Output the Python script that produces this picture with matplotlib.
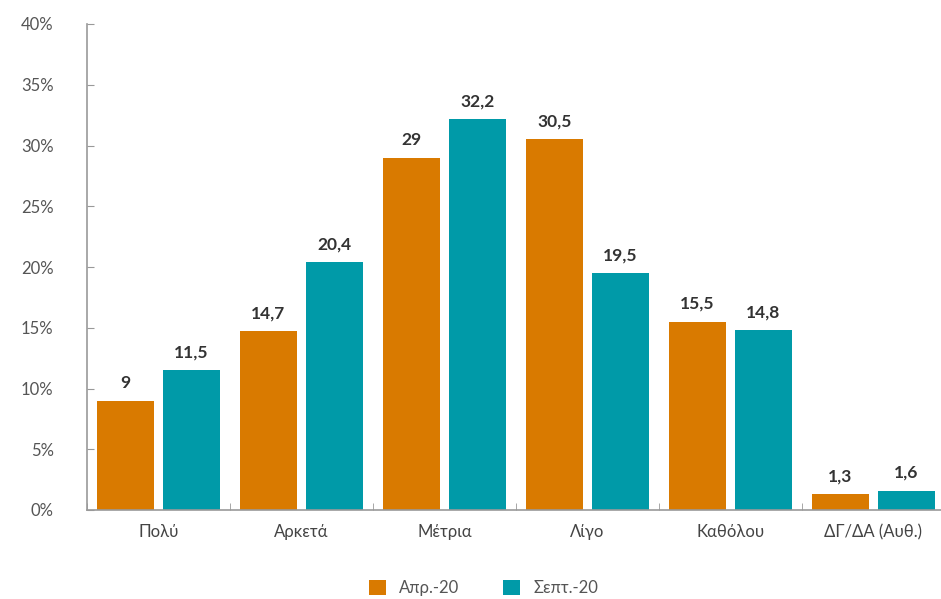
import matplotlib
matplotlib.use("Agg")
import matplotlib.pyplot as plt
import numpy as np
from matplotlib.ticker import FuncFormatter

categories = ["Πολύ", "Αρκετά", "Μέτρια", "Λίγο", "Καθόλου", "ΔΓ/ΔΑ (Αυθ.)"]
apr20 = [9, 14.7, 29, 30.5, 15.5, 1.3]
sep20 = [11.5, 20.4, 32.2, 19.5, 14.8, 1.6]
series_names = ["Απρ.-20", "Σεπτ.-20"]
colors = ["#D97A00", "#009AA8"]

plt.rcParams['font.family'] = ['Lato', 'DejaVu Sans']

fig = plt.figure(figsize=(9.41, 5.99), dpi=100)
ax = fig.add_axes([87 / 941, 89 / 599, (944.6 - 87) / 941, 486 / 599])

x = np.arange(len(categories))
w = 0.399
off = 0.231
b1 = ax.bar(x - off, apr20, w, color=colors[0], label=series_names[0])
b2 = ax.bar(x + off, sep20, w, color=colors[1], label=series_names[1])

def fmt(v):
    return ("%g" % v).replace(".", ",")

for bars, vals in ((b1, apr20), (b2, sep20)):
    for r, v in zip(bars, vals):
        ax.text(r.get_x() + r.get_width() / 2, v + 0.8, fmt(v), ha="center", va="bottom",
                fontsize=12.5, fontweight="bold", color="#333333")

ax.set_xlim(-0.5, len(categories) - 0.5)
ax.set_ylim(0, 40)
ax.set_yticks(np.arange(0, 41, 5))
ax.yaxis.set_major_formatter(FuncFormatter(lambda v, p: "%d%%" % v))
ax.set_xticks(x)
ax.set_xticklabels(categories)
ax.set_xticks(np.arange(-0.5, len(categories)), minor=True)
ax.tick_params(axis="x", which="major", length=0, pad=10, labelsize=12, labelcolor="#444444")
ax.tick_params(axis="x", which="minor", direction="in", length=5, color="#999999")
ax.tick_params(axis="y", direction="in", length=5, color="#999999", pad=24, labelsize=12, labelcolor="#555555")

for s in ("top", "right"):
    ax.spines[s].set_visible(False)
for s in ("left", "bottom"):
    ax.spines[s].set_color("#999999")
    ax.spines[s].set_linewidth(1.2)

leg = fig.legend(handles=[b1, b2], labels=series_names, loc="center", bbox_to_anchor=(0.514, 0.018),
                 ncol=2, frameon=False, fontsize=12, handlelength=1.0, handleheight=1.0,
                 columnspacing=2.6, handletextpad=0.8)
for t in leg.get_texts():
    t.set_color("#555555")

fig.savefig("out.png", dpi=100)
